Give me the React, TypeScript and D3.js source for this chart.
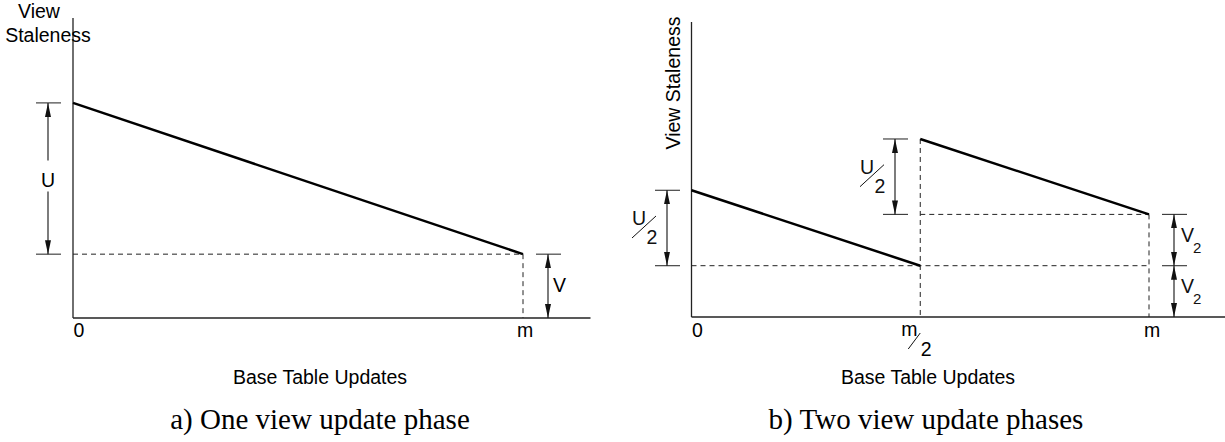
import React from 'react';
import * as d3 from 'd3';

// panel a: one update phase (staleness in arbitrary units, x in fractions of m)
const phaseA_x = [0, 1];
const phaseA_y = [3.37, 1]; // U + V  ->  V
const aU = 2.37;
const aV = 1;

// panel b: two update phases
const phaseB1_x = [0, 0.5];
const phaseB1_y = [2.47, 1];
const phaseB2_x = [0.5, 1];
const phaseB2_y = [3.47, 2];
const bHalfU = 1.47;
const bHalfV = 1;

const xTickLabels = ['0', 'm'];
const yLabel = 'View Staleness';
const xLabel = 'Base Table Updates';
const captions = ['a) One view update phase', 'b) Two view update phases'];

const SANS = 'Liberation Sans, Arial, Helvetica, sans-serif';
const SERIF = 'Liberation Serif, Times New Roman, serif';
const FS = 19.5;

// scales
const xA = d3.scaleLinear().domain([0, 1]).range([73, 523]);
const yA = d3.scaleLinear().domain([0, 4.7]).range([318, 18]);
const xB = d3.scaleLinear().domain([0, 1]).range([691.5, 1149]);
const yB = d3.scaleLinear().domain([0, 5.75]).range([317, 22]);
const xEndA = 1.15;
const xEndB = 1.17;

const line = d3.line<[number, number]>();

const Arrow = ({ x, y1, y2, gap }: { x: number; y1: number; y2: number; gap?: [number, number] }) => {
  if (gap) {
    return (
      <g stroke="#111" strokeWidth={1.1}>
        <line x1={x} x2={x} y1={gap[0]} y2={y1} markerEnd="url(#ah)" />
        <line x1={x} x2={x} y1={gap[1]} y2={y2} markerEnd="url(#ah)" />
      </g>
    );
  }
  return (
    <line x1={x} x2={x} y1={y1} y2={y2} stroke="#111" strokeWidth={1.1}
      markerStart="url(#ah)" markerEnd="url(#ah)" />
  );
};

const Tick = ({ x, y }: { x: number; y: number }) => (
  <line x1={x - 12} x2={x + 13} y1={y} y2={y} stroke="#333" strokeWidth={1.1} />
);

// "a/b" drawn as raised numerator, slash, lowered denominator
const Frac = ({ x, y, num, den }: { x: number; y: number; num: string; den: string }) => (
  <g fontFamily={SANS} fontSize={FS} fill="#111">
    <text x={x - 28} y={y - 3} textAnchor="middle">{num}</text>
    <line x1={x - 35} y1={y + 10} x2={x - 11} y2={y - 12} stroke="#111" strokeWidth={1} />
    <text x={x - 15} y={y + 16} textAnchor="middle">{den}</text>
  </g>
);

const Sub = ({ x, y, main, sub }: { x: number; y: number; main: string; sub: string }) => (
  <text x={x} y={y} fontFamily={SANS} fontSize={FS} fill="#111">
    {main}
    <tspan fontSize={15} dy={11} dx={-1}>{sub}</tspan>
  </text>
);

const App = () => {
  const lineA = phaseA_x.map((d, i) => [xA(d), yA(phaseA_y[i])] as [number, number]);
  const lineB1 = phaseB1_x.map((d, i) => [xB(d), yB(phaseB1_y[i])] as [number, number]);
  const lineB2 = phaseB2_x.map((d, i) => [xB(d), yB(phaseB2_y[i])] as [number, number]);

  // panel a helpers
  const aTop = yA(aU + aV);
  const aMid = yA(aV);
  const aBot = yA(0);
  const uMidA = (aTop + aMid) / 2;

  // panel b helpers
  const bV = yB(bHalfV * 2);
  const bHalf = yB(bHalfV);
  const bBot = yB(0);
  const b1Top = yB(bHalfV + bHalfU);
  const b2Top = yB(2 * bHalfV + bHalfU);

  return (
    <svg width={1225} height={442} style={{ position: 'absolute', left: 0, top: 0, background: '#fff' }}>
      <defs>
        <marker id="ah" viewBox="0 0 14 6" refX={14} refY={3} markerWidth={14} markerHeight={6}
          markerUnits="userSpaceOnUse" orient="auto-start-reverse">
          <path d="M0,0 L14,3 L0,6 Z" fill="#111" />
        </marker>
      </defs>

      {/* ---------- panel a ---------- */}
      <g>
        <line x1={xA(0)} x2={xA(0)} y1={yA(0)} y2={yA.range()[1]} stroke="#222" strokeWidth={1.3} />
        <line x1={xA(0)} x2={xA(xEndA)} y1={yA(0)} y2={yA(0)} stroke="#222" strokeWidth={1.3} />

        <line x1={xA(0)} x2={xA(1)} y1={aMid} y2={aMid} stroke="#222" strokeDasharray="5,4" />
        <line x1={xA(1)} x2={xA(1)} y1={aMid} y2={aBot} stroke="#222" strokeDasharray="5,4" />

        <path d={line(lineA) || ''} stroke="#000" strokeWidth={2.5} fill="none" />

        <Tick x={48} y={aTop} />
        <Tick x={48} y={aMid} />
        <Arrow x={48} y1={aTop} y2={aMid} gap={[uMidA - 18, uMidA + 13]} />
        <text x={48} y={uMidA + 8} textAnchor="middle" fontFamily={SANS} fontSize={FS}>U</text>

        <Tick x={548} y={aMid} />
        <Arrow x={548} y1={aMid} y2={aBot} />
        <text x={553} y={(aMid + aBot) / 2 + 6} fontFamily={SANS} fontSize={FS}>V</text>

        {xTickLabels.map((t, i) => (
          <text key={t} x={xA(i) + (i === 0 ? 6 : 2)} y={337} textAnchor="middle"
            fontFamily={SANS} fontSize={FS}>{t}</text>
        ))}

        <text x={39} y={18} textAnchor="middle" fontFamily={SANS} fontSize={FS}>View</text>
        <text x={48} y={42} textAnchor="middle" fontFamily={SANS} fontSize={FS}>Staleness</text>

        <text x={320} y={384} textAnchor="middle" fontFamily={SANS} fontSize={FS}>{xLabel}</text>
        <text x={320} y={429} textAnchor="middle" fontFamily={SERIF} fontSize={29}>{captions[0]}</text>
      </g>

      {/* ---------- panel b ---------- */}
      <g>
        <line x1={xB(0)} x2={xB(0)} y1={yB(0)} y2={yB.range()[1]} stroke="#222" strokeWidth={1.3} />
        <line x1={xB(0)} x2={xB(xEndB)} y1={yB(0)} y2={yB(0)} stroke="#222" strokeWidth={1.3} />

        <line x1={xB(0)} x2={xB(1)} y1={bHalf} y2={bHalf} stroke="#222" strokeDasharray="5,4" />
        <line x1={xB(0.5)} x2={xB(1)} y1={bV} y2={bV} stroke="#222" strokeDasharray="5,4" />
        <line x1={xB(0.5)} x2={xB(0.5)} y1={b2Top} y2={bBot} stroke="#222" strokeDasharray="5,4" />
        <line x1={xB(1)} x2={xB(1)} y1={bV} y2={bBot} stroke="#222" strokeDasharray="5,4" />

        <path d={line(lineB1) || ''} stroke="#000" strokeWidth={2.5} fill="none" />
        <path d={line(lineB2) || ''} stroke="#000" strokeWidth={2.5} fill="none" />

        <Tick x={667} y={b1Top} />
        <Tick x={667} y={bHalf} />
        <Arrow x={667} y1={b1Top} y2={bHalf} />
        <Frac x={667} y={(b1Top + bHalf) / 2} num="U" den="2" />

        <Tick x={895} y={b2Top} />
        <Tick x={895} y={bV} />
        <Arrow x={895} y1={b2Top} y2={bV} />
        <Frac x={895} y={(b2Top + bV) / 2} num="U" den="2" />

        <Tick x={1174} y={bV} />
        <Tick x={1174} y={bHalf} />
        <Arrow x={1174} y1={bV} y2={bHalf} />
        <Arrow x={1174} y1={bHalf} y2={bBot} />
        <Sub x={1181} y={(bV + bHalf) / 2 + 2} main="V" sub="2" />
        <Sub x={1181} y={(bHalf + bBot) / 2 + 2} main="V" sub="2" />

        <text x={xB(0) + 6} y={337} textAnchor="middle" fontFamily={SANS} fontSize={FS}>{xTickLabels[0]}</text>
        <text x={xB(1) + 3} y={337} textAnchor="middle" fontFamily={SANS} fontSize={FS}>{xTickLabels[1]}</text>
        {/* m/2 under the middle tick */}
        <g fontFamily={SANS} fontSize={FS}>
          <text x={xB(0.5) - 11} y={336} textAnchor="middle">m</text>
          <line x1={xB(0.5) - 12} y1={349} x2={xB(0.5)} y2={333} stroke="#111" strokeWidth={1} />
          <text x={xB(0.5) + 6} y={356} textAnchor="middle">2</text>
        </g>

        <text transform="translate(680,83) rotate(-90)" textAnchor="middle" fontFamily={SANS} fontSize={FS}>{yLabel}</text>

        <text x={928} y={384} textAnchor="middle" fontFamily={SANS} fontSize={FS}>{xLabel}</text>
        <text x={926} y={429} textAnchor="middle" fontFamily={SERIF} fontSize={29}>{captions[1]}</text>
      </g>
    </svg>
  );
};

export default App;
